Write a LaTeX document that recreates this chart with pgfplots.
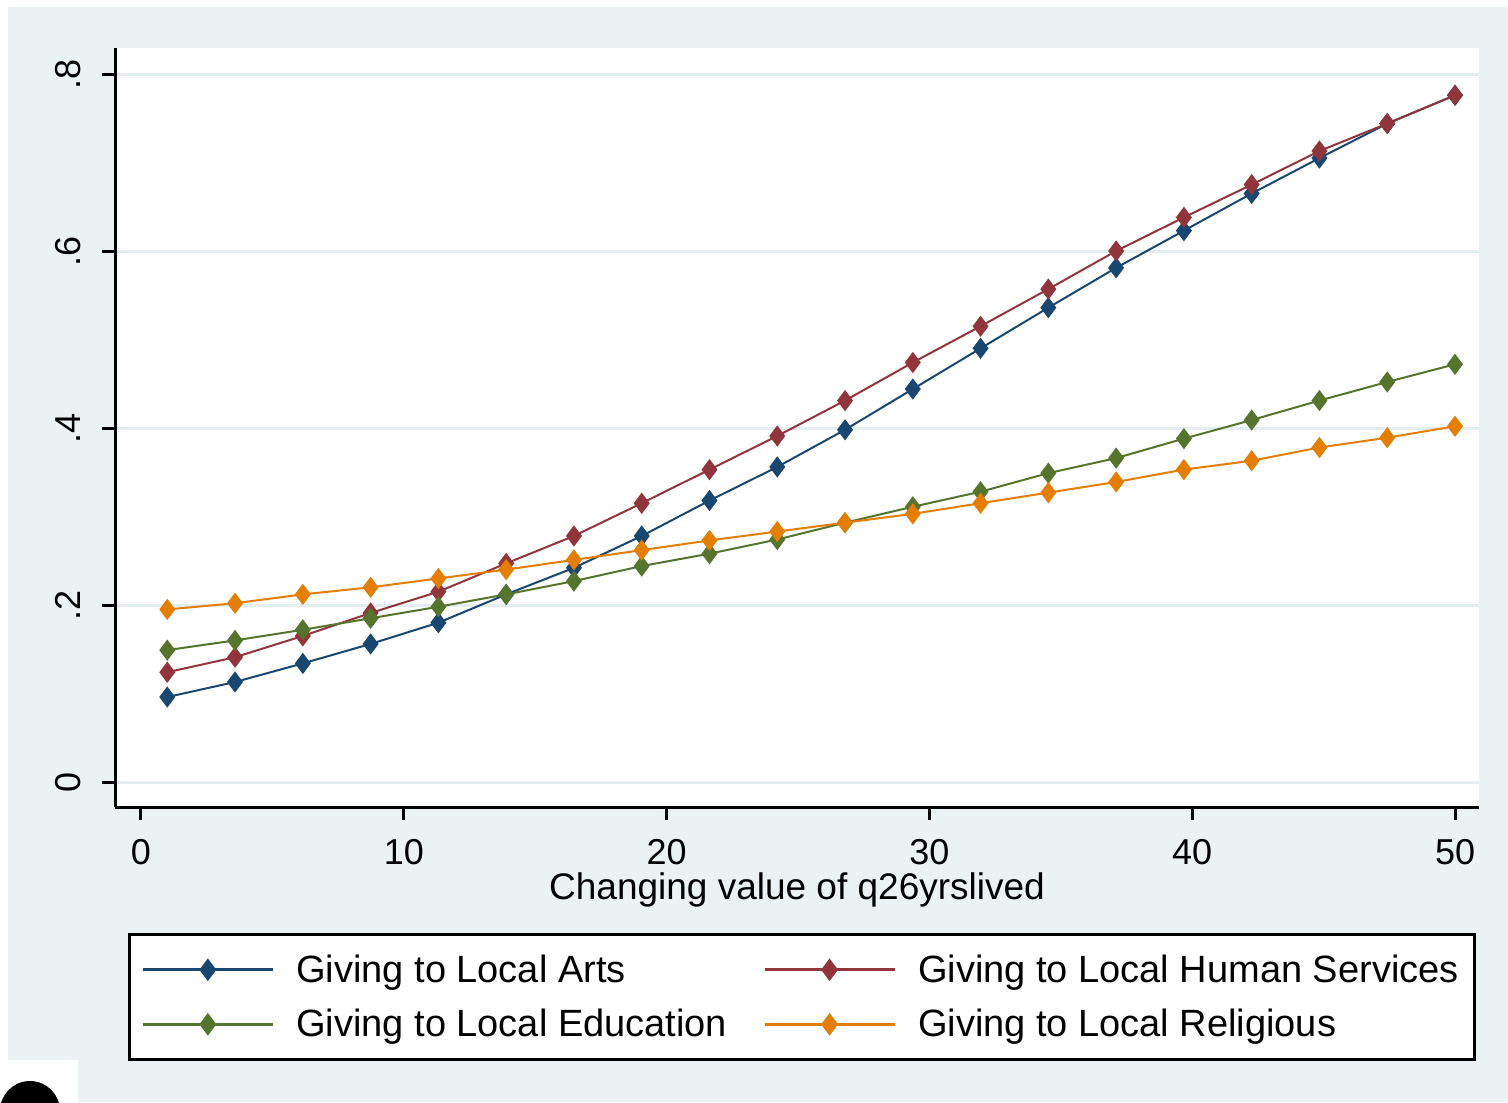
\documentclass[border=0pt]{standalone}
\usepackage{fontspec}
\setmainfont{Liberation Sans}
\usepackage{pgfplots}
\usepackage{pgfplotstable}
\pgfplotsset{compat=1.18}

\definecolor{panelbg}{HTML}{EAF2F3}
\definecolor{gridc}{HTML}{E4EDEF}
\definecolor{sNavy}{HTML}{1A476F}
\definecolor{sMaroon}{HTML}{90353B}
\definecolor{sGreen}{HTML}{55752F}
\definecolor{sOrange}{HTML}{E37E00}

% Predicted probability of giving by years lived in the community
\pgfplotstableread{
x       arts   human  educ   relig
1.000   0.096  0.124  0.149  0.195
3.579   0.113  0.141  0.160  0.202
6.158   0.134  0.165  0.172  0.212
8.737   0.156  0.191  0.185  0.220
11.316  0.180  0.215  0.198  0.230
13.895  0.212  0.247  0.212  0.240
16.474  0.242  0.278  0.227  0.251
19.053  0.278  0.315  0.244  0.262
21.632  0.318  0.353  0.258  0.273
24.211  0.356  0.391  0.274  0.283
26.789  0.398  0.431  0.293  0.293
29.368  0.444  0.474  0.311  0.303
31.947  0.490  0.515  0.328  0.315
34.526  0.536  0.557  0.349  0.327
37.105  0.581  0.600  0.366  0.339
39.684  0.623  0.638  0.388  0.353
42.263  0.665  0.675  0.409  0.363
44.842  0.705  0.713  0.431  0.378
47.421  0.744  0.744  0.452  0.389
50.000  0.776  0.776  0.472  0.402
}\givingdata

\begin{document}
\begin{tikzpicture}
% page and graph panel (1 px = 0.5pt, axis box SW corner at origin)
\useasboundingbox[fill=white] (-57.5pt,403.5pt) rectangle (696.5pt,-147.5pt);
\fill[panelbg] (-53.5pt,400pt) rectangle (696.5pt,-147.5pt);
% corner of a neighbouring window
\fill[white] (-57.5pt,-126.5pt) rectangle (-18.5pt,-147.5pt);
\begin{scope}
  \clip (-57.5pt,-126.5pt) rectangle (-18.5pt,-147.5pt);
  \fill[black] (-42.5pt,-152pt) circle (15pt);
\end{scope}
\begin{axis}[
  at={(0,0)}, anchor=south west,
  scale only axis,
  width=682pt, height=379.5pt,
  xmin=-0.989, xmax=50.913,
  ymin=-0.02825, ymax=0.8294,
  axis x line*=bottom, axis y line*=left,
  axis line style={line width=1.5pt, black, -},
  axis background/.style={fill=white},
  xtick={0,10,20,30,40,50},
  ytick={0,0.2,0.4,0.6,0.8},
  yticklabels={0,.2,.4,.6,.8},
  tick align=outside,
  major tick length=6.5pt,
  tick style={line width=1.5pt, black},
  ymajorgrids,
  major grid style={line width=1.5pt, gridc},
  /pgf/number format/assume math mode=true,
  tick label style={font=\fontsize{18}{20}\selectfont},
  yticklabel style={xshift=-7pt, rotate=90, anchor=south},
  xticklabel style={yshift=-6pt},
  xlabel={Changing value of q26yrslived},
  xlabel style={font=\fontsize{18.5}{20}\selectfont, yshift=3pt},
  legend columns=2,
  legend cell align=left,
  legend style={
    at={(axis description cs:0.0095,-0.166)}, anchor=north west,
    draw=black, line width=1.5pt, fill=white,
    font=\fontsize{19}{22}\selectfont,
    inner xsep=6pt, inner ysep=8pt,
    row sep=8pt,
    /tikz/every even column/.append style={column sep=16pt},
    /tikz/every odd column/.append style={column sep=9pt},
  },
  legend image code/.code={%
    \draw[#1, line width=1.4pt, mark repeat=2, mark phase=2]
      plot coordinates {(0pt,0pt) (32.5pt,0pt) (65pt,0pt)};},
  every axis plot/.append style={line width=1pt, mark=diamond*, mark size=4.5pt},
]
\addplot[sNavy, mark options={fill=sNavy, draw=sNavy}] table[x=x, y=arts] {\givingdata};
\addlegendentry{Giving to Local Arts}
\addplot[sMaroon, mark options={fill=sMaroon, draw=sMaroon}] table[x=x, y=human] {\givingdata};
\addlegendentry{Giving to Local Human Services}
\addplot[sGreen, mark options={fill=sGreen, draw=sGreen}] table[x=x, y=educ] {\givingdata};
\addlegendentry{Giving to Local Education}
\addplot[sOrange, mark options={fill=sOrange, draw=sOrange}] table[x=x, y=relig] {\givingdata};
\addlegendentry{Giving to Local Religious}
\end{axis}
\end{tikzpicture}
\end{document}
